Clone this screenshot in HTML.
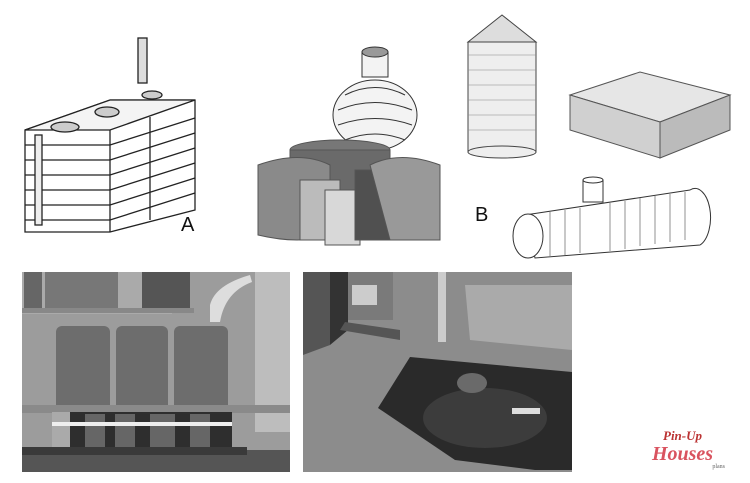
<!DOCTYPE html>
<html><head><meta charset="utf-8"><style>
body{margin:0;width:750px;height:483px;background:#fff;overflow:hidden;font-family:"Liberation Sans",sans-serif;position:relative}
.lbl{position:absolute;font-size:20px;color:#111}
</style></head><body>
<svg width="750" height="483" style="position:absolute;left:0;top:0">
<!-- Tank A -->
<g stroke="#222" stroke-width="1.3" fill="#fff">
<polygon points="25,130 110,100 195,100 195,210 110,232 25,232"/>
<polygon points="25,130 110,100 195,100 110,130" fill="#f4f4f4"/>
<line x1="110" y1="130" x2="110" y2="232"/>
<line x1="150" y1="117" x2="150" y2="220"/>
<g fill="none">
<path d="M25,145 L110,145 L195,118"/><path d="M25,160 L110,160 L195,133"/><path d="M25,175 L110,175 L195,148"/>
<path d="M25,190 L110,190 L195,163"/><path d="M25,205 L110,205 L195,178"/><path d="M25,220 L110,220 L195,193"/>
</g>
<ellipse cx="65" cy="127" rx="14" ry="5" fill="#ccc"/><ellipse cx="107" cy="112" rx="12" ry="5" fill="#ccc"/><ellipse cx="152" cy="95" rx="10" ry="4" fill="#ccc"/>
<rect x="138" y="38" width="9" height="45" fill="#ddd"/><rect x="35" y="135" width="7" height="90" fill="#eee"/>
</g>
<!-- top middle septic -->
<g stroke="#333" stroke-width="1" fill="#f3f3f3">
<rect x="362" y="52" width="26" height="25"/><ellipse cx="375" cy="52" rx="13" ry="5" fill="#999"/>
<ellipse cx="375" cy="115" rx="42" ry="35"/>
<path d="M345,95 Q375,80 405,95 M338,110 Q375,95 412,110 M338,125 Q375,112 412,125 M345,140 Q375,128 405,140" fill="none"/>
</g>
<!-- silo -->
<g stroke="#444" stroke-width="1" fill="#eee">
<rect x="468" y="42" width="68" height="110"/>
<polygon points="468,42 502,15 536,42" fill="#ddd"/>
<ellipse cx="502" cy="152" rx="34" ry="6"/>
</g>
<g stroke="#888" stroke-width="0.6">
<line x1="468" y1="55" x2="536" y2="55"/><line x1="468" y1="70" x2="536" y2="70"/><line x1="468" y1="85" x2="536" y2="85"/><line x1="468" y1="100" x2="536" y2="100"/><line x1="468" y1="115" x2="536" y2="115"/><line x1="468" y1="130" x2="536" y2="130"/>
</g>
<!-- cube -->
<g stroke="#555" stroke-width="1" fill="#e6e6e6">
<polygon points="570,95 640,72 730,95 660,122"/>
<polygon points="570,95 660,122 660,158 570,130" fill="#d0d0d0"/>
<polygon points="660,122 730,95 730,130 660,158" fill="#bbb"/>
</g>
<!-- cluster -->
<g stroke="#555" stroke-width="1">
<ellipse cx="340" cy="150" rx="50" ry="10" fill="#777"/>
<rect x="290" y="150" width="100" height="70" fill="#6a6a6a"/>
<path d="M258,165 Q300,150 330,165 L330,235 Q300,245 258,235 Z" fill="#8a8a8a"/>
<rect x="300" y="180" width="40" height="60" fill="#bbb"/>
<rect x="325" y="190" width="35" height="55" fill="#d8d8d8"/>
<rect x="355" y="170" width="35" height="70" fill="#505050"/>
<path d="M370,165 Q400,150 440,165 L440,240 L390,240 Z" fill="#999"/>
</g>
<!-- pipe tank -->
<g stroke="#333" stroke-width="1" fill="#fff">
<path d="M525,215 L690,190 A15,28 0 0 1 700,245 L535,258 Z"/>
<ellipse cx="528" cy="236" rx="15" ry="22"/>
<rect x="583" y="180" width="20" height="22"/><ellipse cx="593" cy="180" rx="10" ry="3"/>
</g>
<g stroke="#777" stroke-width="0.8" fill="none">
<path d="M550,212 v45 M565,210 v45 M580,208 v45 M610,203 v48 M625,201 v48 M640,198 v48 M655,196 v48 M670,194 v48 M685,192 v48"/>
</g>
<!-- left photo -->
<rect x="22" y="272" width="268" height="200" fill="#9c9c9c"/>
<rect x="22" y="272" width="150" height="42" fill="#aaa"/>
<rect x="24" y="272" width="18" height="36" fill="#666"/>
<rect x="45" y="272" width="73" height="36" fill="#777"/>
<rect x="142" y="272" width="48" height="36" fill="#555"/>
<rect x="22" y="308" width="172" height="5" fill="#888"/>
<rect x="255" y="272" width="35" height="160" fill="#bdbdbd"/>
<path d="M210,322 L210,305 Q215,285 250,275 L252,282 Q225,292 220,322 Z" fill="#ddd"/>
<g fill="#6d6d6d"><rect x="56" y="326" width="54" height="90" rx="6"/><rect x="116" y="326" width="52" height="90" rx="6"/><rect x="174" y="326" width="54" height="90" rx="6"/></g>
<rect x="22" y="405" width="268" height="8" fill="#8a8a8a"/>
<rect x="52" y="412" width="180" height="38" fill="#2e2e2e"/>
<g fill="#666"><rect x="85" y="414" width="20" height="36"/><rect x="115" y="414" width="20" height="36"/><rect x="150" y="414" width="25" height="36"/><rect x="190" y="414" width="20" height="36"/></g>
<rect x="52" y="412" width="18" height="38" fill="#aaa"/>
<rect x="52" y="422" width="180" height="4" fill="#eee"/>
<rect x="22" y="450" width="268" height="22" fill="#555"/>
<rect x="22" y="447" width="225" height="8" fill="#3a3a3a"/>
<!-- right photo -->
<rect x="303" y="272" width="269" height="200" fill="#8c8c8c"/>
<polygon points="303,272 330,272 330,345 303,355" fill="#555"/>
<polygon points="330,272 348,272 348,330 330,345" fill="#333"/>
<rect x="348" y="272" width="45" height="48" fill="#7a7a7a"/>
<rect x="352" y="285" width="25" height="20" fill="#ccc"/>
<polygon points="345,322 400,330 400,340 340,330" fill="#555"/>
<polygon points="465,285 572,285 572,350 470,340" fill="#aaa"/>
<rect x="438" y="272" width="8" height="70" fill="#ccc"/>
<polygon points="378,408 410,357 572,372 572,470 535,470 455,460" fill="#2a2a2a"/>
<ellipse cx="485" cy="418" rx="62" ry="30" fill="#3c3c3c"/>
<ellipse cx="472" cy="383" rx="15" ry="10" fill="#6a6a6a"/>
<rect x="512" y="408" width="28" height="6" fill="#ddd"/>
</svg>
<div class="lbl" style="left:181px;top:214px">A</div>
<div class="lbl" style="left:475px;top:204px">B</div>
<div style="position:absolute;left:640px;top:428px;width:85px;text-align:center;font-family:'Liberation Serif',serif">
<div style="font-size:13px;color:#b33;font-style:italic;font-weight:bold">Pin-Up</div>
<div style="font-size:20px;color:#d9535f;font-style:italic;font-weight:bold;line-height:20px">Houses</div>
<div style="font-size:6px;color:#666;text-align:right">plans</div>
</div>
</body></html>
